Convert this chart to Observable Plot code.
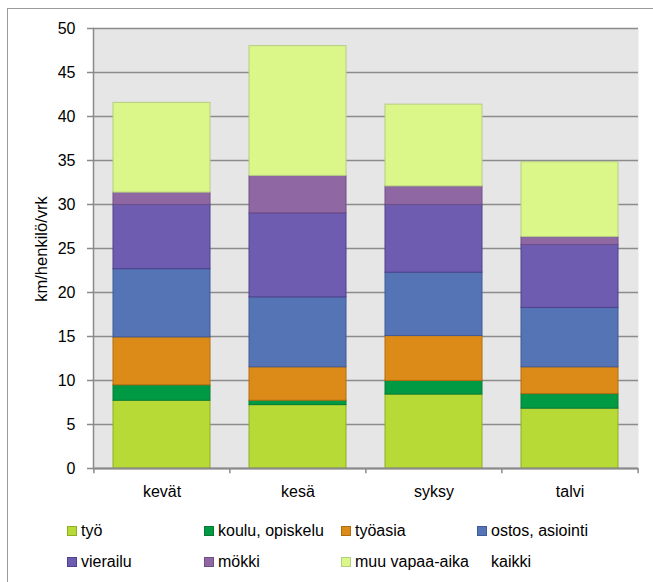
<!DOCTYPE html>
<html>
<head>
<meta charset="utf-8">
<script src="https://cdn.jsdelivr.net/npm/d3@7"></script>
<script src="https://cdn.jsdelivr.net/npm/@observablehq/plot@0.6"></script>
<style>
  html, body { margin: 0; padding: 0; background: #fff; overflow: hidden; width: 653px; height: 582px; }
  body { position: relative; font-family: "Liberation Sans", Arial, sans-serif; }
  #frame { position: absolute; left: 7px; top: 8px; width: 700px; height: 700px; border: 1px solid #9a9a9a; box-sizing: border-box; }
  #chart { position: absolute; left: 0; top: 0; }
  #ylabel { position: absolute; left: 41px; top: 249px; transform: translate(-50%, -50%) rotate(-90deg); font-size: 16.5px; white-space: nowrap; color: #000; }
  .lg { position: absolute; font-size: 16px; color: #000; white-space: nowrap; line-height: 18px; }
  .sw { display: inline-block; width: 8px; height: 8px; margin-right: 4px; vertical-align: 0px; border: 1px solid; }
</style>
</head>
<body>
<div id="frame"></div>
<div id="chart"></div>
<div id="ylabel">km/henkilö/vrk</div>
<div id="legend"></div>
<script>
// ---- data ----
const seasons = ["kevät", "kesä", "syksy", "talvi"];
const tyo       = [7.7, 7.2, 8.4, 6.8];
const koulu     = [1.75, 0.5, 1.55, 1.65];
const tyoasia   = [5.45, 3.8, 5.1, 3.05];
const ostos     = [7.75, 7.95, 7.2, 6.75];
const vierailu  = [7.3, 9.55, 7.7, 7.15];
const mokki     = [1.4, 4.25, 2.1, 0.9];
const muu       = [10.2, 14.75, 9.3, 8.5];
const seriesNames = ["työ", "koulu, opiskelu", "työasia", "ostos, asiointi", "vierailu", "mökki", "muu vapaa-aika"];
const seriesValues = [tyo, koulu, tyoasia, ostos, vierailu, mokki, muu];
const fills   = ["#b8da36", "#009a44", "#dd8b18", "#5574b6", "#6e5cb0", "#8f68a3", "#dbf78a"];
const strokes = ["#8fae28", "#077a37", "#b06c10", "#3f5a96", "#4f418c", "#6e4f86", "#b6cc84"];
const yTicks = [0, 5, 10, 15, 20, 25, 30, 35, 40, 45, 50];

const rows = [];
seriesNames.forEach((s, i) => seasons.forEach((c, j) => rows.push({season: c, series: s, value: seriesValues[i][j]})));

const W = 653, H = 510, ML = 93, MR = 15, MT = 28, MB = 42;
const pIn = 0.285, pOut = 0.1425;
const step = (W - ML - MR) / (seasons.length - pIn + 2 * pOut);

const chart = Plot.plot({
  width: W, height: H,
  marginLeft: ML, marginRight: MR, marginTop: MT, marginBottom: MB,
  style: {fontFamily: "Liberation Sans, Arial, sans-serif", fontSize: "16px", color: "#000", background: "transparent"},
  x: {domain: seasons, paddingInner: pIn, paddingOuter: pOut, label: null},
  y: {domain: [0, 50], label: null},
  color: {domain: seriesNames, range: fills},
  marks: [
    Plot.frame({fill: "#e6e6e6", stroke: null}),
    Plot.gridY(yTicks, {stroke: "#8c8c8c", strokeOpacity: 1, strokeWidth: 1.5}),
    Plot.barY(rows, {x: "season", y: "value", fill: "series", stroke: d => strokes[seriesNames.indexOf(d.series)], strokeWidth: 1, order: seriesNames}),
    Plot.frame({anchor: "left", stroke: "#8a8a8a", strokeWidth: 1.5}),
    Plot.ruleY([0], {stroke: "#8a8a8a", strokeWidth: 2}),
    Plot.ruleX(seasons, {x: d => d, y1: 0, y2: -0.6, dx: -step / 2, stroke: "#8a8a8a", strokeWidth: 1.5}),
    Plot.ruleX(seasons.slice(-1), {x: d => d, y1: 0, y2: -0.6, dx: step / 2, stroke: "#8a8a8a", strokeWidth: 1.5}),
    Plot.axisY(yTicks, {tickSize: 6, tickPadding: 12, stroke: "#8a8a8a", strokeWidth: 1.5, label: null}),
    Plot.axisX({tickSize: 0, tickPadding: 17, label: null})
  ]
});
document.getElementById("chart").appendChild(chart);

// legend
const legend = document.getElementById("legend");
const cols = [67, 204, 341, 477];
const rowY = [522, 553];
const items = seriesNames.map((s, i) => ({name: s, fill: fills[i], stroke: strokes[i]}));
items.push({name: "kaikki", fill: null});
items.forEach((it, i) => {
  const r = Math.floor(i / 4), c = i % 4;
  const el = document.createElement("div");
  el.className = "lg";
  el.style.left = (it.fill ? cols[c] : cols[c] + 14) + "px";
  el.style.top = rowY[r] + "px";
  if (it.fill) {
    const sw = document.createElement("span");
    sw.className = "sw";
    sw.style.background = it.fill;
    sw.style.borderColor = it.stroke;
    el.appendChild(sw);
  }
  el.appendChild(document.createTextNode(it.name));
  legend.appendChild(el);
});
</script>
</body>
</html>
